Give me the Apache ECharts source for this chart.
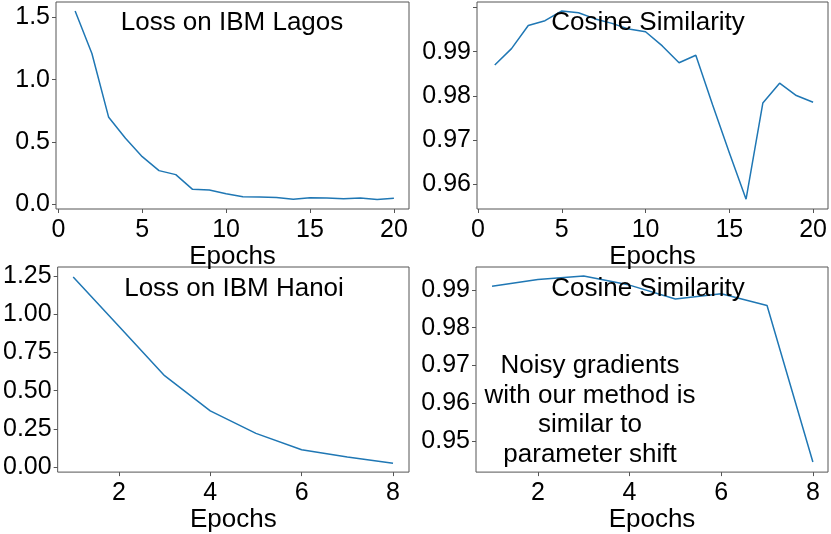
<!DOCTYPE html>
<html>
<head>
<meta charset="utf-8">
<script src="https://cdn.jsdelivr.net/npm/echarts@6.0.0/dist/echarts.min.js"></script>
<style>
  html, body { margin: 0; padding: 0; background: #fff; }
  #chart { width: 831px; height: 534px; }
</style>
</head>
<body>
<div id="chart"></div>
<script>
// epochs
var epochsLagos = [1,2,3,4,5,6,7,8,9,10,11,12,13,14,15,16,17,18,19,20];
var epochsHanoi = [1,2,3,4,5,6,7,8];

// values
var lossLagos = [1.551, 1.21, 0.698, 0.53, 0.382, 0.27, 0.238, 0.12, 0.115, 0.085,
                 0.061, 0.058, 0.055, 0.04, 0.052, 0.05, 0.045, 0.05, 0.038, 0.048];
var cosLagos = [0.9870, 0.9907, 0.9959, 0.9970, 0.9992, 0.9988, 0.9974, 0.9964, 0.9951, 0.9945,
                0.9913, 0.9875, 0.9892, 0.9780, 0.9672, 0.9567, 0.9784, 0.9829, 0.9801, 0.9786];
var lossHanoi = [1.245, 0.922, 0.598, 0.367, 0.22, 0.112, 0.065, 0.024];
var cosHanoi = [0.9910, 0.9928, 0.9937, 0.9913, 0.9876, 0.9890, 0.9859, 0.9444];

// tick labels
var xTicksLagos = [0, 5, 10, 15, 20];
var xTicksHanoi = [2, 4, 6, 8];
var yTicksLoss1 = [0, 0.5, 1.0, 1.5];
var yTicksCos1 = [0.96, 0.97, 0.98, 0.99, 1.0];
var yLabelsCos1 = [0.96, 0.97, 0.98, 0.99];
var yTicksLoss2 = [0, 0.25, 0.5, 0.75, 1.0, 1.25];
var yTicksCos2 = [0.95, 0.96, 0.97, 0.98, 0.99];

var FONT = 'Liberation Sans, Arial, sans-serif';
var FRAME = '#555';
var LINE = '#1f77b4';
var TICK_SIZE = 25;
var TEXT_SIZE = 26;

function pair(a, b) {
  return a.map(function (v, i) { return [v, b[i]]; });
}

function xAxis(idx, min, max, ticks, gap) {
  return {
    type: 'value', gridIndex: idx, min: min, max: max,
    name: 'Epochs', nameLocation: 'middle', nameGap: gap,
    nameTextStyle: { fontSize: TEXT_SIZE, color: '#000', fontFamily: FONT },
    axisLine: { show: false, onZero: false },
    axisTick: { show: true, length: 4, lineStyle: { color: FRAME }, customValues: ticks },
    axisLabel: { fontSize: TICK_SIZE, color: '#000', fontFamily: FONT, margin: 9, customValues: ticks,
                 showMinLabel: true, showMaxLabel: true },
    splitLine: { show: false }
  };
}

function yAxis(idx, min, max, ticks, labels, digits) {
  return {
    type: 'value', gridIndex: idx, min: min, max: max,
    axisLine: { show: false, onZero: false },
    axisTick: { show: true, length: 4, lineStyle: { color: FRAME }, customValues: ticks },
    axisLabel: { fontSize: TICK_SIZE, color: '#000', fontFamily: FONT, margin: 6, customValues: labels,
                 formatter: function (v) { return v.toFixed(digits); } },
    splitLine: { show: false }
  };
}

function title(text, x, y) {
  return { text: text, left: x, top: y, textAlign: 'center', padding: 0,
           textStyle: { fontSize: TEXT_SIZE, fontWeight: 'normal', color: '#000', fontFamily: FONT, lineHeight: 29.7 } };
}

function line(idx, data) {
  return { type: 'line', xAxisIndex: idx, yAxisIndex: idx, data: data,
           showSymbol: false, symbol: 'none', lineStyle: { color: LINE, width: 1.5 } };
}

var grid = { show: true, borderColor: FRAME, borderWidth: 1, backgroundColor: 'transparent' };

var chart = echarts.init(document.getElementById('chart'));
chart.setOption({
  animation: false,
  backgroundColor: '#fff',
  title: [
    title('Loss on IBM Lagos', 232, 8),
    title('Cosine Similarity', 648, 8),
    title('Loss on IBM Hanoi', 234, 274),
    title('Cosine Similarity', 648, 274),
    title('Noisy gradients\nwith our method is\nsimilar to\nparameter shift', 590, 351)
  ],
  grid: [
    Object.assign({ left: 56, right: 422, top: 2, bottom: 325 }, grid),
    Object.assign({ left: 477, right: 3, top: 2, bottom: 325 }, grid),
    Object.assign({ left: 55, right: 422, top: 267, bottom: 60 }, grid),
    Object.assign({ left: 476, right: 3, top: 267, bottom: 60 }, grid)
  ],
  xAxis: [
    xAxis(0, -0.14, 20.9, xTicksLagos, 21),
    xAxis(1, -0.06, 20.89, xTicksLagos, 21),
    xAxis(2, 0.66, 8.35, xTicksHanoi, 26),
    xAxis(3, 0.65, 8.33, xTicksHanoi, 26)
  ],
  yAxis: [
    yAxis(0, -0.038, 1.624, yTicksLoss1, yTicksLoss1, 1),
    yAxis(1, 0.95449, 1.00122, yTicksCos1, yLabelsCos1, 2),
    yAxis(2, -0.034, 1.31, yTicksLoss2, yTicksLoss2, 2),
    yAxis(3, 0.94173, 0.9961, yTicksCos2, yTicksCos2, 2)
  ],
  series: [
    line(0, pair(epochsLagos, lossLagos)),
    line(1, pair(epochsLagos, cosLagos)),
    line(2, pair(epochsHanoi, lossHanoi)),
    line(3, pair(epochsHanoi, cosHanoi))
  ]
});
</script>
</body>
</html>
